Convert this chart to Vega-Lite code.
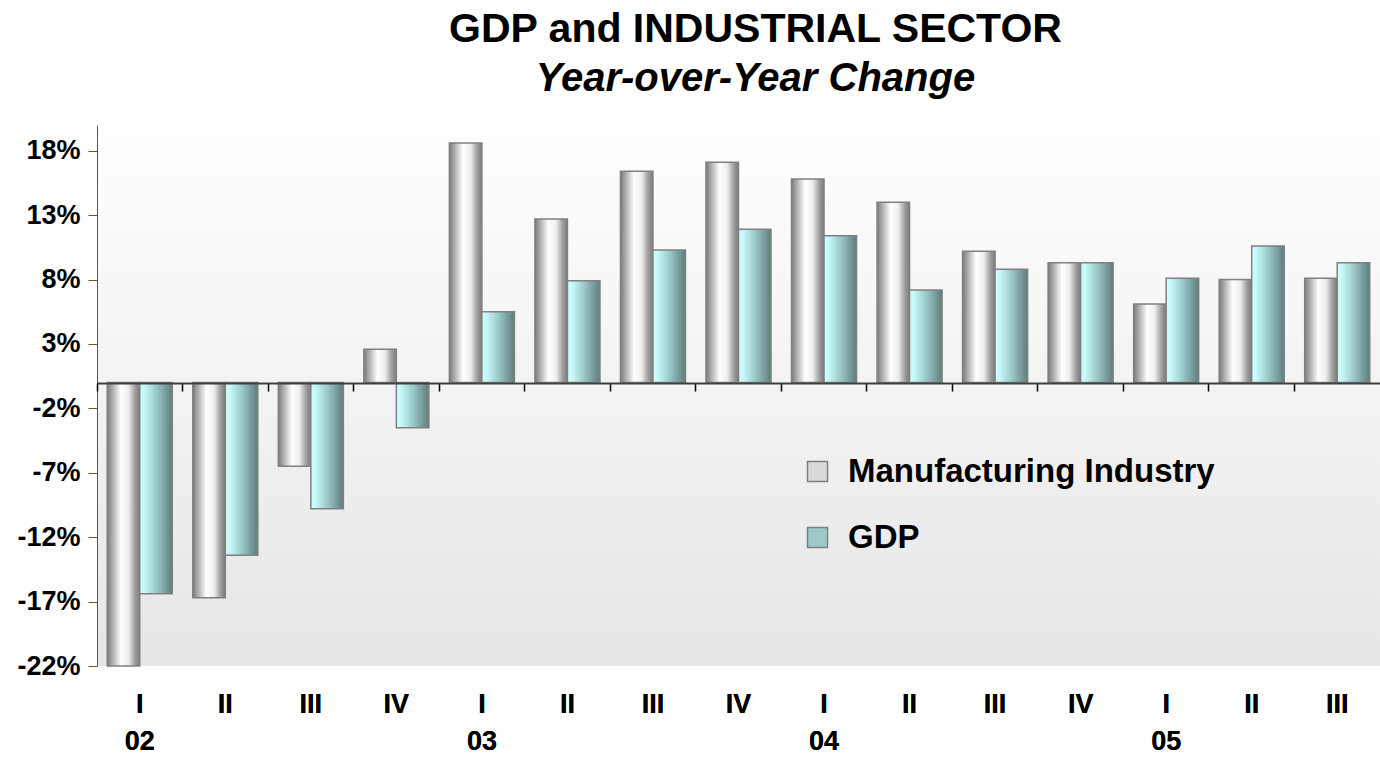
{
  "$schema": "https://vega.github.io/schema/vega-lite/v6.json",
  "width": 1283,
  "height": 541,
  "autosize": "none",
  "padding": {"left": 97, "top": 125, "right": 0, "bottom": 92},
  "background": "#ffffff",
  "config": {
    "font": "Liberation Sans",
    "view": {
      "stroke": null,
      "fill": {"gradient": "linear", "x1": 0, "y1": 0, "x2": 0, "y2": 1, "stops": [{"offset": 0, "color": "#ffffff"}, {"offset": 1, "color": "#e6e6e6"}]}
    }
  },
  "title": {
    "text": "GDP and INDUSTRIAL SECTOR",
    "subtitle": "Year-over-Year Change",
    "anchor": "middle",
    "frame": "group",
    "dx": 17,
    "offset": 25,
    "font": "Liberation Sans",
    "fontSize": 41,
    "fontWeight": "bold",
    "color": "#000000",
    "subtitleFont": "Liberation Sans",
    "subtitleFontSize": 40,
    "subtitleFontStyle": "italic",
    "subtitleFontWeight": "bold",
    "subtitleColor": "#000000",
    "subtitlePadding": 8
  },
  "data": {
    "values": [
      {"period": "02|I", "series": "Manufacturing Industry", "value": -22.0},
      {"period": "02|I", "series": "GDP", "value": -16.4},
      {"period": "02|II", "series": "Manufacturing Industry", "value": -16.7},
      {"period": "02|II", "series": "GDP", "value": -13.4},
      {"period": "02|III", "series": "Manufacturing Industry", "value": -6.5},
      {"period": "02|III", "series": "GDP", "value": -9.8},
      {"period": "02|IV", "series": "Manufacturing Industry", "value": 2.6},
      {"period": "02|IV", "series": "GDP", "value": -3.5},
      {"period": "03|I", "series": "Manufacturing Industry", "value": 18.6},
      {"period": "03|I", "series": "GDP", "value": 5.5},
      {"period": "03|II", "series": "Manufacturing Industry", "value": 12.7},
      {"period": "03|II", "series": "GDP", "value": 7.9},
      {"period": "03|III", "series": "Manufacturing Industry", "value": 16.4},
      {"period": "03|III", "series": "GDP", "value": 10.3},
      {"period": "03|IV", "series": "Manufacturing Industry", "value": 17.1},
      {"period": "03|IV", "series": "GDP", "value": 11.9},
      {"period": "04|I", "series": "Manufacturing Industry", "value": 15.8},
      {"period": "04|I", "series": "GDP", "value": 11.4},
      {"period": "04|II", "series": "Manufacturing Industry", "value": 14.0},
      {"period": "04|II", "series": "GDP", "value": 7.2},
      {"period": "04|III", "series": "Manufacturing Industry", "value": 10.2},
      {"period": "04|III", "series": "GDP", "value": 8.8},
      {"period": "04|IV", "series": "Manufacturing Industry", "value": 9.3},
      {"period": "04|IV", "series": "GDP", "value": 9.3},
      {"period": "05|I", "series": "Manufacturing Industry", "value": 6.1},
      {"period": "05|I", "series": "GDP", "value": 8.1},
      {"period": "05|II", "series": "Manufacturing Industry", "value": 8.0},
      {"period": "05|II", "series": "GDP", "value": 10.6},
      {"period": "05|III", "series": "Manufacturing Industry", "value": 8.1},
      {"period": "05|III", "series": "GDP", "value": 9.3}
    ]
  },
  "resolve": {"axis": {"x": "independent"}},
  "encoding": {
    "x": {
      "field": "period",
      "type": "nominal",
      "scale": {"paddingInner": 0, "paddingOuter": 0},
      "axis": {
        "orient": "bottom",
        "title": null,
        "domain": false,
        "ticks": false,
        "tickSize": 0,
        "labelAngle": 0,
        "labelPadding": 25,
        "labelFont": "Liberation Sans",
        "labelFontSize": 27,
        "labelFontWeight": "bold",
        "labelColor": "#000000",
        "labelBaseline": "top",
        "labelLineHeight": 37,
        "labelExpr": "split(datum.value, '|')[1] === 'I' ? ['I', split(datum.value, '|')[0]] : split(datum.value, '|')[1]"
      }
    },
    "xOffset": {
      "field": "series",
      "type": "nominal",
      "scale": {"domain": ["Manufacturing Industry", "GDP"], "paddingInner": 0, "paddingOuter": 0.315}
    },
    "y": {
      "field": "value",
      "type": "quantitative",
      "scale": {"domain": [-22, 20], "nice": false, "zero": false},
      "axis": {
        "title": null,
        "values": [-22, -17, -12, -7, -2, 3, 8, 13, 18],
        "labelExpr": "datum.value + '%'",
        "grid": false,
        "domainColor": "#5c5c2e",
        "domainWidth": 1,
        "tickColor": "#5c5c2e",
        "tickSize": 9,
        "labelPadding": 8,
        "labelFont": "Liberation Sans",
        "labelFontSize": 27,
        "labelFontWeight": "bold",
        "labelColor": "#000000"
      }
    },
    "color": {
      "field": "series",
      "type": "nominal",
      "scale": {"domain": ["Manufacturing Industry", "GDP"], "range": ["#d9d9d9", "#9ccaca"]},
      "legend": {
        "orient": "none",
        "legendX": 704,
        "legendY": 330,
        "title": null,
        "padding": 0,
        "symbolType": "square",
        "symbolSize": 400,
        "symbolStrokeColor": "#808080",
        "symbolStrokeWidth": 1.5,
        "labelFont": "Liberation Sans",
        "labelFontSize": 33,
        "labelFontWeight": "bold",
        "labelColor": "#000000",
        "labelOffset": 14,
        "rowPadding": 32,
        "labelLimit": 600
      }
    }
  },
  "layer": [
    {
      "transform": [{"filter": "datum.series === 'Manufacturing Industry'"}],
      "mark": {
        "type": "bar",
        "stroke": "#808080",
        "strokeWidth": 1.5,
        "fill": {"gradient": "linear", "x1": 0, "y1": 0, "x2": 1, "y2": 0, "stops": [{"offset": 0, "color": "#7a7a7a"}, {"offset": 0.15, "color": "#aaaaaa"}, {"offset": 0.42, "color": "#ffffff"}, {"offset": 0.65, "color": "#eeeeee"}, {"offset": 0.85, "color": "#a0a0a0"}, {"offset": 1, "color": "#7a7a7a"}]}
      }
    },
    {
      "transform": [{"filter": "datum.series === 'GDP'"}],
      "mark": {
        "type": "bar",
        "stroke": "#808080",
        "strokeWidth": 1.5,
        "fill": {"gradient": "linear", "x1": 0, "y1": 0, "x2": 1, "y2": 0, "stops": [{"offset": 0, "color": "#ccffff"}, {"offset": 0.15, "color": "#c6f8f8"}, {"offset": 0.5, "color": "#9ccaca"}, {"offset": 1, "color": "#5f7d7d"}]}
      }
    },
    {
      "mark": {"type": "point", "opacity": 0},
      "encoding": {
        "x": {
          "field": "period",
          "type": "nominal",
          "axis": {
            "orient": "bottom",
            "offset": -283,
            "title": null,
            "labels": false,
            "domain": true,
            "domainColor": "#404040",
            "domainWidth": 2,
            "ticks": true,
            "tickColor": "#000000",
            "tickWidth": 1.5,
            "tickSize": 8,
            "bandPosition": 0,
            "zindex": 1
          }
        },
        "xOffset": null,
        "color": null,
        "y": {"datum": 0, "type": "quantitative"}
      }
    }
  ]
}
